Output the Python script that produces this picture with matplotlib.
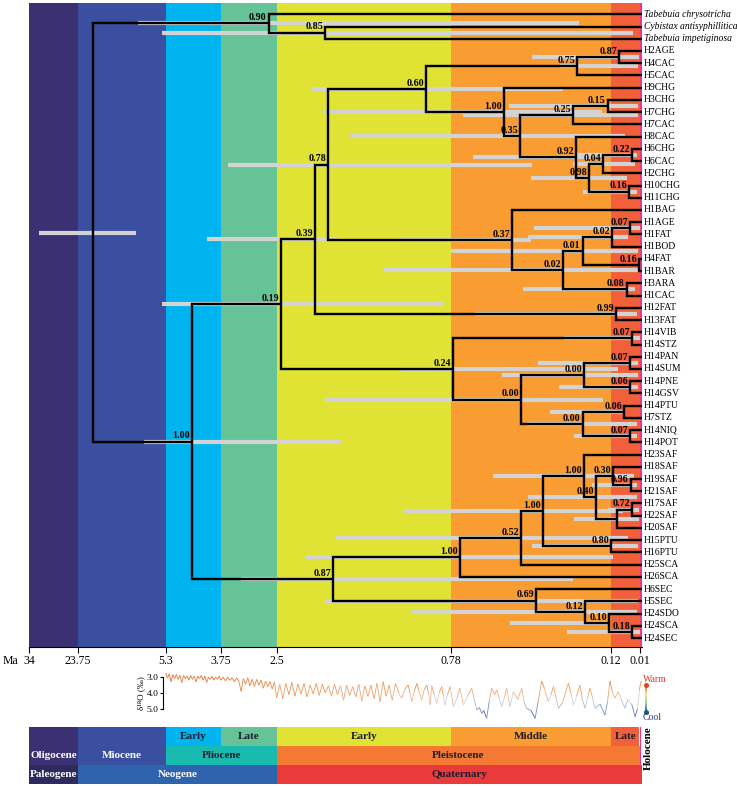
import numpy as np
import matplotlib
matplotlib.use("Agg")
import matplotlib.pyplot as plt
from matplotlib.collections import LineCollection
from matplotlib.colors import LinearSegmentedColormap, Normalize

plt.rcParams['font.family'] = ['Liberation Serif', 'DejaVu Serif']

# ---- time scale (Ma) ----
epoch_start = [34, 23.75, 5.3, 3.75, 2.5, 0.78, 0.12, 0.01]
epoch_end = [23.75, 5.3, 3.75, 2.5, 0.78, 0.12, 0.01, 0]
epoch_colors = ['#3b3172', '#3a4fa0', '#00b5ef', '#66c398',
                '#e0e333', '#f99c31', '#f2603b', '#f0338c']
tick_ages = [34, 23.75, 5.3, 3.75, 2.5, 0.78, 0.12, 0.01]
tick_labels = ['34', '23.75', '5.3', '3.75', '2.5', '0.78', '0.12', '0.01']

# ---- tips, top to bottom ----
tips = ['Tabebuia chrysotricha', 'Cybistax antisyphillitica', 'Tabebuia impetiginosa',
        'H2AGE', 'H4CAC', 'H5CAC', 'H9CHG', 'H3CHG', 'H7CHG', 'H7CAC', 'H8CAC',
        'H6CHG', 'H6CAC', 'H2CHG', 'H10CHG', 'H11CHG', 'H1BAG', 'H1AGE', 'H1FAT',
        'H1BOD', 'H4FAT', 'H1BAR', 'H3ARA', 'H1CAC', 'H12FAT', 'H13FAT', 'H14VIB',
        'H14STZ', 'H14PAN', 'H14SUM', 'H14PNE', 'H14GSV', 'H14PTU', 'H7STZ',
        'H14NIQ', 'H14POT', 'H23SAF', 'H18SAF', 'H19SAF', 'H21SAF', 'H17SAF',
        'H22SAF', 'H20SAF', 'H15PTU', 'H16PTU', 'H25SCA', 'H26SCA', 'H6SEC',
        'H5SEC', 'H24SDO', 'H24SCA', 'H24SEC']
italic_tips = tips[:3]

# ---- internal nodes ----
node_ids = ['root', 'out', 'n085', 'ing', 'a', 'a1', 'a11', 'c1', 'c11', 'c111',
            'c12', 'c121', 'c1211', 'c12111', 'c1212', 'c12121', 'd1', 'd11', 'd2',
            'c2', 'e1', 'e11', 'e111', 'e1111', 'e112', 'e12', 'a12', 'a2', 'f1',
            'f2', 'f21', 'f211', 'f212', 'f22', 'f221', 'f222', 'b', 'g1', 'g11',
            'g111', 'g1111', 'h1', 'h11', 'h111', 'h12', 'h121', 'g1112', 'g2',
            'i1', 'i11', 'i111']
node_kids = [('out', 'ing'), ('Tabebuia chrysotricha', 'n085'),
             ('Cybistax antisyphillitica', 'Tabebuia impetiginosa'), ('a', 'b'),
             ('a1', 'a2'), ('a11', 'a12'), ('c1', 'c2'), ('c11', 'c12'),
             ('c111', 'H5CAC'), ('H2AGE', 'H4CAC'), ('H9CHG', 'c121'),
             ('c1211', 'c1212'), ('c12111', 'H7CAC'), ('H3CHG', 'H7CHG'),
             ('H8CAC', 'c12121'), ('d1', 'd2'), ('d11', 'H2CHG'), ('H6CHG', 'H6CAC'),
             ('H10CHG', 'H11CHG'), ('H1BAG', 'e1'), ('e11', 'e12'), ('e111', 'e112'),
             ('e1111', 'H1BOD'), ('H1AGE', 'H1FAT'), ('H4FAT', 'H1BAR'),
             ('H3ARA', 'H1CAC'), ('H12FAT', 'H13FAT'), ('f1', 'f2'),
             ('H14VIB', 'H14STZ'), ('f21', 'f22'), ('f211', 'f212'),
             ('H14PAN', 'H14SUM'), ('H14PNE', 'H14GSV'), ('f221', 'f222'),
             ('H14PTU', 'H7STZ'), ('H14NIQ', 'H14POT'), ('g1', 'g2'),
             ('g11', 'H26SCA'), ('g111', 'H25SCA'), ('g1111', 'g1112'),
             ('H23SAF', 'h1'), ('h11', 'h12'), ('H18SAF', 'h111'),
             ('H19SAF', 'H21SAF'), ('h121', 'H20SAF'), ('H17SAF', 'H22SAF'),
             ('H15PTU', 'H16PTU'), ('H6SEC', 'i1'), ('H5SEC', 'i11'),
             ('H24SDO', 'i111'), ('H24SCA', 'H24SEC')]
node_age = [20.66, 2.68, 2.02, 4.57, 2.46, 2.12, 1.99, 1.029, 0.259, 0.089,
            0.56, 0.495, 0.275, 0.134, 0.264, 0.209, 0.152, 0.04, 0.051,
            0.527, 0.319, 0.237, 0.115, 0.047, 0.012, 0.059, 0.101, 0.77, 0.038,
            0.491, 0.231, 0.047, 0.047, 0.237, 0.07, 0.047, 1.94, 0.743, 0.492,
            0.399, 0.23, 0.182, 0.111, 0.044, 0.098, 0.04, 0.12, 0.429,
            0.227, 0.128, 0.038]
node_pp = [None, 0.90, 0.85, 1.00, 0.19, 0.39, 0.78, 0.60, 0.75, 0.87,
           1.00, 0.35, 0.25, 0.15, 0.92, 0.98, 0.04, 0.22, 0.16,
           0.37, 0.02, 0.01, 0.02, 0.07, 0.16, 0.08, 0.99, 0.24, 0.07,
           0.00, 0.00, 0.07, 0.06, 0.00, 0.06, 0.07, 0.87, 1.00, 0.52,
           1.00, 1.00, 0.40, 0.30, 0.96, None, 0.72, 0.80, 0.69,
           0.12, 0.10, 0.18]
hpd_old = [31.96, 11.13, 6.08, 9.86, 6.08, 4.14, 3.59, 2.155, 0.33, 0.446,
           2.03, 1.78, 0.73, 0.541, 0.689, 0.45, 0.277, 0.26, 0.235,
           1.28, 1.44, 0.78, 0.462, 0.438, np.nan, 0.483, 0.681, 1.28, 0.314,
           2.02, 0.57, 0.421, 0.334, 0.466, 0.372, 0.273, 3.31, 2.21, 1.925,
           1.254, 0.607, 0.462, 0.25, 0.198, 0.273, 0.132, 0.446, 2.02,
           1.175, 0.537, 0.301]
hpd_young = [11.55, 0.252, 0.035, 1.87, 0.86, 1.9, 0.446, 0.318, 0.016, 0.012,
             0.157, 0.066, 0.016, 0.016, 0.207, 0.058, 0.027, 0.02, 0.02,
             0.45, 0.016, 0.016, 0.054, 0.008, np.nan, 0.027, 0.02, 0.093, 0.008,
             0.153, 0.016, 0.016, 0.016, 0.02, 0.066, 0.02, 0.275, 0.112, 0.054,
             0.074, 0.174, 0.02, 0.03, 0.02, 0.012, 0.012, 0.016, 0.016,
             0.02, 0.136, 0.008]

# ---- benthic d18O stack (Ma, permil) ----
d18o_age = [5.30, 5.25, 5.20, 5.15, 5.10, 5.05, 5.00, 4.95, 4.90, 4.85, 4.80, 4.75,
            4.70, 4.65, 4.60, 4.55, 4.50, 4.45, 4.40, 4.35, 4.30, 4.25, 4.20, 4.15,
            4.10, 4.05, 4.00, 3.95, 3.90, 3.85, 3.80, 3.75, 3.70, 3.65, 3.60, 3.55,
            3.50, 3.45, 3.40, 3.35, 3.30, 3.25, 3.20, 3.15, 3.10, 3.05, 3.00, 2.95,
            2.90, 2.85, 2.80, 2.75, 2.70, 2.65, 2.60, 2.55, 2.50,
            2.47, 2.44, 2.41, 2.38, 2.35, 2.32, 2.29, 2.26, 2.23, 2.20, 2.17, 2.14,
            2.11, 2.08, 2.05, 2.02, 1.99, 1.96, 1.93, 1.90, 1.87, 1.84, 1.81, 1.78,
            1.75, 1.72, 1.69, 1.66, 1.63, 1.60, 1.57, 1.54, 1.51, 1.48, 1.45, 1.42,
            1.39, 1.36, 1.33, 1.315, 1.29, 1.266, 1.235, 1.201, 1.185, 1.167, 1.14,
            1.118, 1.095, 1.069, 1.045, 1.019, 1.00, 0.987, 0.970, 0.945, 0.921,
            0.895, 0.871, 0.855, 0.839, 0.815, 0.789, 0.770, 0.755, 0.743, 0.729,
            0.712, 0.695, 0.684, 0.674, 0.663, 0.653, 0.645, 0.633, 0.622, 0.612,
            0.600, 0.591, 0.580, 0.571, 0.560, 0.550, 0.537, 0.523, 0.505, 0.488,
            0.478, 0.468, 0.450, 0.433, 0.420, 0.406, 0.395, 0.379, 0.368, 0.357,
            0.345, 0.337, 0.320, 0.296, 0.285, 0.275, 0.262, 0.248, 0.238, 0.227,
            0.217, 0.207, 0.196, 0.186, 0.165, 0.145, 0.135, 0.124, 0.115, 0.105,
            0.092, 0.080, 0.066, 0.055, 0.040, 0.027, 0.018, 0.010, 0.005, 0.0]
d18o_val = [2.75, 3.05, 2.80, 3.30, 2.85, 3.10, 2.85, 3.15, 2.90, 3.35, 2.90, 3.10,
            2.95, 3.20, 2.90, 3.15, 2.95, 3.30, 2.95, 3.10, 2.90, 3.20, 2.95, 3.35,
            3.00, 3.15, 2.95, 3.20, 3.00, 3.15, 2.95, 3.20, 3.00, 3.25, 3.00, 3.20,
            3.05, 3.30, 3.05, 3.25, 3.90, 3.10, 3.45, 3.05, 3.55, 3.15, 3.60, 3.15,
            3.50, 3.20, 3.70, 3.25, 3.60, 3.30, 3.75, 3.30, 4.30,
            3.45, 4.35, 3.40, 4.10, 3.35, 4.20, 3.45, 4.05, 3.40, 4.25, 3.50, 4.05,
            3.40, 4.15, 3.45, 4.00, 3.55, 4.20, 3.45, 4.10, 3.55, 4.45, 3.50, 4.15,
            3.60, 4.25, 3.45, 4.50, 3.55, 4.20, 3.50, 4.35, 3.40, 4.55, 3.30, 4.20,
            3.50, 4.45, 3.45, 3.60, 4.10, 4.33, 3.75, 3.50, 4.00, 4.54, 3.85,
            3.40, 3.90, 4.44, 3.80, 3.50, 4.10, 4.75, 3.55, 4.10, 4.65,
            3.95, 3.60, 4.20, 4.75, 4.10, 3.60, 4.85, 4.30, 3.70, 4.75,
            4.20, 3.70, 4.40, 5.06, 4.90, 5.27, 5.10, 5.58, 4.50, 3.70,
            4.10, 3.81, 4.40, 4.85, 4.30, 3.70, 4.85, 3.92, 4.40, 3.70,
            4.60, 4.96, 5.10, 5.58, 4.50, 3.25, 3.70, 4.54, 4.10, 3.60,
            4.40, 4.96, 4.60, 3.40, 4.00, 4.75, 4.20, 3.50, 4.40, 4.96,
            4.30, 3.70, 4.30, 4.96, 4.70, 5.38, 4.60, 3.25, 3.90, 4.33,
            3.92, 4.40, 4.96, 4.40, 4.70, 5.48, 5.00, 3.80, 3.40, 3.25]

# ---- stratigraphic table ----
row0_names = ['', '', 'Early', 'Late', 'Early', 'Middle', 'Late', '']
row0_start = epoch_start
row0_end = epoch_end
row0_colors = epoch_colors
row1_names = ['Oligocene', 'Miocene', 'Pliocene', 'Pleistocene', '']
row1_start = [34, 23.75, 5.3, 2.5, 0.01]
row1_end = [23.75, 5.3, 2.5, 0.01, 0]
row1_colors = ['#3b3172', '#3a4fa0', '#19bab0', '#f47a33', '#f0338c']
row2_names = ['Paleogene', 'Neogene', 'Quaternary']
row2_start = [34, 23.75, 2.5]
row2_end = [23.75, 2.5, 0]
row2_colors = ['#2e2a5e', '#2e63ad', '#ea3a3a']
white_text = ['Oligocene', 'Miocene', 'Paleogene', 'Neogene']

# ---- piecewise x scale: each epoch gets its own width (pixels) ----
epoch_px = [48.7, 87.7, 55.3, 55.7, 174.3, 160.0, 28.5, 2.0]
edges = np.array([0] + epoch_start[::-1], float)
cum = np.concatenate([[0], np.cumsum(epoch_px[::-1])])


def _interp(v, xp, fp):
    v = np.asarray(v, float)
    out = np.interp(v, xp, fp)
    lo_s = (fp[1] - fp[0]) / (xp[1] - xp[0])
    hi_s = (fp[-1] - fp[-2]) / (xp[-1] - xp[-2])
    out = np.where(v < xp[0], fp[0] + (v - xp[0]) * lo_s, out)
    out = np.where(v > xp[-1], fp[-1] + (v - xp[-1]) * hi_s, out)
    return out


def fwd(a):
    return _interp(a, edges, cum)


def inv(v):
    return _interp(v, cum, edges)


W, H = 737, 786


def box(x0, y0, x1, y1):
    return [x0 / W, 1 - y1 / H, (x1 - x0) / W, (y1 - y0) / H]


fig = plt.figure(figsize=(W / 100, H / 100), dpi=100)

# ---------------- tree ----------------
ax = fig.add_axes(box(29.3, 3.3, 641.5, 647))
ax.set_xscale('function', functions=(fwd, inv))
ax.set_xlim(34, 0)
ax.set_ylim((647 - 14.3) / 12.23, (3.3 - 14.3) / 12.23)

for s, e, c in zip(epoch_start, epoch_end, epoch_colors):
    ax.axvspan(s, e, color=c, lw=0, zorder=0)

tip_y = {name: i for i, name in enumerate(tips)}
kids = dict(zip(node_ids, node_kids))
age = dict(zip(node_ids, node_age))
ypos = {}


def get_y(n):
    if n in tip_y:
        return tip_y[n]
    if n not in ypos:
        ypos[n] = np.mean([get_y(k) for k in kids[n]])
    return ypos[n]


def get_age(n):
    return 0.0 if n in tip_y else age[n]


node_y = [get_y(n) for n in node_ids]

ok = ~np.isnan(np.array(hpd_old))
ax.hlines(np.array(node_y)[ok], np.array(hpd_old)[ok], np.array(hpd_young)[ok],
          colors='#d3d3d3', lw=3.0, zorder=2)

for n, ny in zip(node_ids, node_y):
    for k in kids[n]:
        ky = get_y(k)
        ax.plot([age[n], age[n], get_age(k)], [ny, ky, ky], color='black', lw=1.7,
                solid_joinstyle='miter', solid_capstyle='butt', zorder=3)

for n, ny, pp in zip(node_ids, node_y, node_pp):
    if pp is None:
        continue
    ax.annotate(f'{pp:.2f}', (age[n], ny), xytext=(-2, 1.2), textcoords='offset pixels',
                ha='right', va='bottom', fontsize=7.2, fontweight='bold', zorder=4)

for name, i in tip_y.items():
    ax.annotate(name, (0, i), xytext=(2.5, 0), textcoords='offset pixels',
                ha='left', va='center', fontsize=6.9,
                style='italic' if name in italic_tips else 'normal',
                annotation_clip=False)

for sp in ['top', 'right', 'left']:
    ax.spines[sp].set_visible(False)
ax.spines['bottom'].set_linewidth(0.8)
ax.set_yticks([])
ax.set_xticks(tick_ages)
ax.set_xticklabels(tick_labels, fontsize=8.5)
ax.tick_params(axis='x', direction='out', length=4, width=0.8, pad=1.5)
ax.xaxis.set_minor_locator(matplotlib.ticker.NullLocator())
fig.text(3 / W, 1 - 661 / H, 'Ma', fontsize=8.5, va='center', ha='left')

# ---------------- d18O curve ----------------
axd = fig.add_axes(box(29.3, 665, 641.5, 722), sharex=ax)
axd.patch.set_visible(False)
axd.set_ylim(3.0 + 45 / 16, 3.0 - 12 / 16)
cmap = LinearSegmentedColormap.from_list(
    'warmcool', [(0.0, '#e8652c'), (0.32, '#ee8a48'), (0.5, '#f2b48a'),
                 (0.62, '#d3d6e6'), (0.76, '#86a3d3'), (1.0, '#33349a')])
pts = np.column_stack([d18o_age, d18o_val])
segs = np.stack([pts[:-1], pts[1:]], axis=1)
lc = LineCollection(segs, cmap=cmap, norm=Normalize(2.7, 5.6), lw=0.6, zorder=3)
lc.set_array((pts[:-1, 1] + pts[1:, 1]) / 2)
axd.add_collection(lc)
for sp in ['top', 'right', 'bottom']:
    axd.spines[sp].set_visible(False)
axd.spines['left'].set_position(('data', 5.8))
axd.spines['left'].set_bounds(3.0, 5.0)
axd.spines['left'].set_linewidth(0.8)
axd.set_yticks([3.0, 4.0, 5.0])
axd.set_yticklabels(['3.0', '4.0', '5.0'], fontsize=6.8)
axd.tick_params(axis='y', length=2.5, width=0.8, pad=1)
axd.tick_params(axis='x', bottom=False, labelbottom=False)
axd.set_ylabel('δ¹⁸O (‰)', fontsize=6.5, labelpad=1)

cax = fig.add_axes(box(645, 685, 647, 712))
grad = np.linspace(0, 1, 100).reshape(-1, 1)
cax.imshow(grad, aspect='auto', cmap=LinearSegmentedColormap.from_list(
    'leg', ['#e8402a', '#f6e08a', '#9fd5b0', '#2a5b8a']))
cax.set_axis_off()
cax.plot([0], [0], 'o', color='#e8402a', ms=2.6, clip_on=False)
cax.plot([0], [99], 'o', color='#1f5a78', ms=2.6, clip_on=False)
fig.text(643 / W, 1 - 679 / H, 'Warm', color='#e23a2a', fontsize=7, va='center')
fig.text(643 / W, 1 - 718 / H, 'Cool', color='#2b3990', fontsize=7, va='center')

# ---------------- timescale table ----------------
axt = fig.add_axes(box(29.3, 727, 641.5, 784), sharex=ax)
axt.set_ylim(3, 0)
rows = [(row0_names, row0_start, row0_end, row0_colors),
        (row1_names, row1_start, row1_end, row1_colors),
        (row2_names, row2_start, row2_end, row2_colors)]
for r, (names, st, en, cols) in enumerate(rows):
    axt.barh([r + 0.5] * len(st), np.array(en) - np.array(st), left=st, height=1.0,
             color=cols, lw=0)
    for nm, s, e in zip(names, st, en):
        if not nm:
            continue
        xc = float(inv((fwd(s) + fwd(e)) / 2))
        axt.text(xc, r + 0.5, nm, ha='center', va='center', fontsize=8,
                 fontweight='bold', color='white' if nm in white_text else '#1c1c2c')
axt.axis('off')
fig.text(648.5 / W, 1 - 748 / H, 'Holocene', rotation=90, fontsize=8,
         fontweight='bold', ha='center', va='center')

fig.savefig('out.png', dpi=100)
